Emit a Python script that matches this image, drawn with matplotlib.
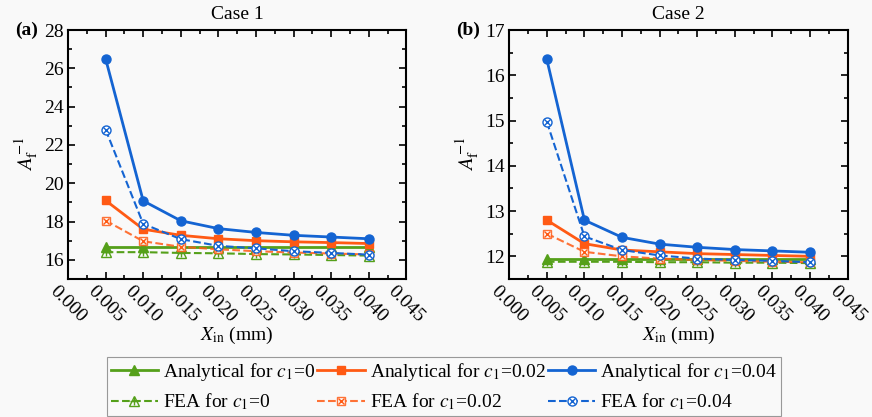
import numpy as np
import matplotlib
matplotlib.use('Agg')
import matplotlib.pyplot as plt
from matplotlib.ticker import MultipleLocator
from matplotlib.legend_handler import HandlerTuple

plt.rcParams['font.family'] = ['Liberation Serif', 'DejaVu Serif']
plt.rcParams['mathtext.fontset'] = 'stix'

x_in = [0.005, 0.010, 0.015, 0.020, 0.025, 0.030, 0.035, 0.040]

# Case 1
c1_ana_0 = [16.65, 16.65, 16.65, 16.65, 16.65, 16.65, 16.65, 16.65]
c1_fea_0 = [16.40, 16.40, 16.36, 16.34, 16.30, 16.28, 16.25, 16.22]
c1_ana_02 = [19.10, 17.60, 17.28, 17.10, 17.00, 16.94, 16.90, 16.85]
c1_fea_02 = [18.05, 16.97, 16.68, 16.55, 16.45, 16.38, 16.33, 16.28]
c1_ana_04 = [26.50, 19.08, 18.04, 17.63, 17.43, 17.28, 17.19, 17.10]
c1_fea_04 = [22.80, 17.88, 17.08, 16.73, 16.60, 16.45, 16.36, 16.27]

# Case 2
c2_ana_0 = [11.94, 11.94, 11.94, 11.94, 11.94, 11.94, 11.94, 11.94]
c2_fea_0 = [11.88, 11.88, 11.88, 11.87, 11.87, 11.86, 11.86, 11.85]
c2_ana_02 = [12.80, 12.28, 12.14, 12.10, 12.06, 12.04, 12.02, 12.00]
c2_fea_02 = [12.50, 12.10, 12.00, 11.95, 11.92, 11.90, 11.88, 11.87]
c2_ana_04 = [16.35, 12.80, 12.42, 12.27, 12.20, 12.15, 12.12, 12.09]
c2_fea_04 = [14.97, 12.44, 12.14, 12.02, 11.95, 11.92, 11.90, 11.87]

green = '#55a01a'
orange = '#ff5a14'
blue = '#1464d2'
bg = '#f9f9f9'
fs = 14

fig = plt.figure(figsize=(8.72, 4.17), dpi=100, facecolor=bg)
ax1 = fig.add_axes([0.078, 0.331, 0.388, 0.597])
ax2 = fig.add_axes([0.584, 0.331, 0.388, 0.597])


def draw(ax, a0, f0, a2, f2, a4, f4):
    hs = []
    h = ax.plot(x_in, a0, '-', color=green, lw=2, marker='^', ms=6.5)[0]
    hs.append(h)
    h1 = ax.plot(x_in, f0, '--', color=green, lw=1.5, marker='^', ms=7,
                 mfc='none', mew=1)[0]
    h2 = ax.plot(x_in, f0, ' ', color=green, marker='+', ms=6, mew=1)[0]
    hs.append((h1, h2))
    h = ax.plot(x_in, a2, '-', color=orange, lw=2, marker='s', ms=6)[0]
    hs.append(h)
    h1 = ax.plot(x_in, f2, '--', color=orange, lw=1.5, marker='s', ms=6,
                 mfc='white', mew=1, alpha=0.85)[0]
    h2 = ax.plot(x_in, f2, ' ', color=orange, marker='x', ms=4, mew=1)[0]
    hs.append((h1, h2))
    h = ax.plot(x_in, a4, '-', color=blue, lw=2, marker='o', ms=6.5)[0]
    hs.append(h)
    h1 = ax.plot(x_in, f4, '--', color=blue, lw=1.5, marker='o', ms=6.5,
                 mfc='white', mew=1)[0]
    h2 = ax.plot(x_in, f4, ' ', color=blue, marker='x', ms=4.5, mew=1)[0]
    hs.append((h1, h2))
    return hs


handles = draw(ax1, c1_ana_0, c1_fea_0, c1_ana_02, c1_fea_02, c1_ana_04, c1_fea_04)
draw(ax2, c2_ana_0, c2_fea_0, c2_ana_02, c2_fea_02, c2_ana_04, c2_fea_04)

xticks = np.arange(0, 0.0451, 0.005)
for ax, title, tag, ylim, ymaj, ymin in [
        (ax1, 'Case 1', '(a)', (15, 28), 2, 1),
        (ax2, 'Case 2', '(b)', (11.5, 17), 1, 0.5)]:
    ax.set_facecolor(bg)
    ax.set_xlim(0, 0.045)
    ax.set_ylim(*ylim)
    ax.set_xticks(xticks)
    ax.set_xticklabels(['%.3f' % v for v in xticks], rotation=-45,
                       ha='center', va='top')
    ax.xaxis.set_minor_locator(MultipleLocator(0.0025))
    ax.yaxis.set_major_locator(MultipleLocator(ymaj))
    ax.yaxis.set_minor_locator(MultipleLocator(ymin))
    ax.tick_params(which='both', direction='in', top=True, right=True,
                   labelsize=fs, width=1.2)
    ax.tick_params(which='major', length=5)
    ax.tick_params(which='minor', length=3)
    ax.tick_params(axis='x', pad=3)
    ax.tick_params(axis='y', pad=3)
    for s in ax.spines.values():
        s.set_linewidth(1.5)
    ax.set_title(title, fontsize=fs, pad=8)
    ax.set_xlabel(r'$X_{\mathrm{in}}$ (mm)', fontsize=fs, labelpad=-1)
    ax.set_ylabel(r'$A_{\mathrm{f}}^{\mathrm{-1}}$', fontsize=fs + 1, labelpad=3)
    ax.text(-0.157, 1.0, tag, transform=ax.transAxes, fontsize=fs,
            fontweight='bold', ha='left', va='center')

labels = [r'Analytical for $c_1$=0', r'FEA for $c_1$=0',
          r'Analytical for $c_1$=0.02', r'FEA for $c_1$=0.02',
          r'Analytical for $c_1$=0.04', r'FEA for $c_1$=0.04']
leg = fig.legend(handles, labels, ncol=3, loc='upper center',
                 bbox_to_anchor=(0.509, 1 - 357 / 417), fontsize=fs,
                 handler_map={tuple: HandlerTuple(ndivide=1, pad=0)},
                 handlelength=2.45, columnspacing=0.1, handletextpad=0.25,
                 borderpad=0.2, labelspacing=0.45, fancybox=False,
                 framealpha=1, facecolor=bg, borderaxespad=0)
leg.get_frame().set_edgecolor('#999999')
leg.get_frame().set_linewidth(0.8)

fig.savefig('out.png', dpi=100, facecolor=bg)
